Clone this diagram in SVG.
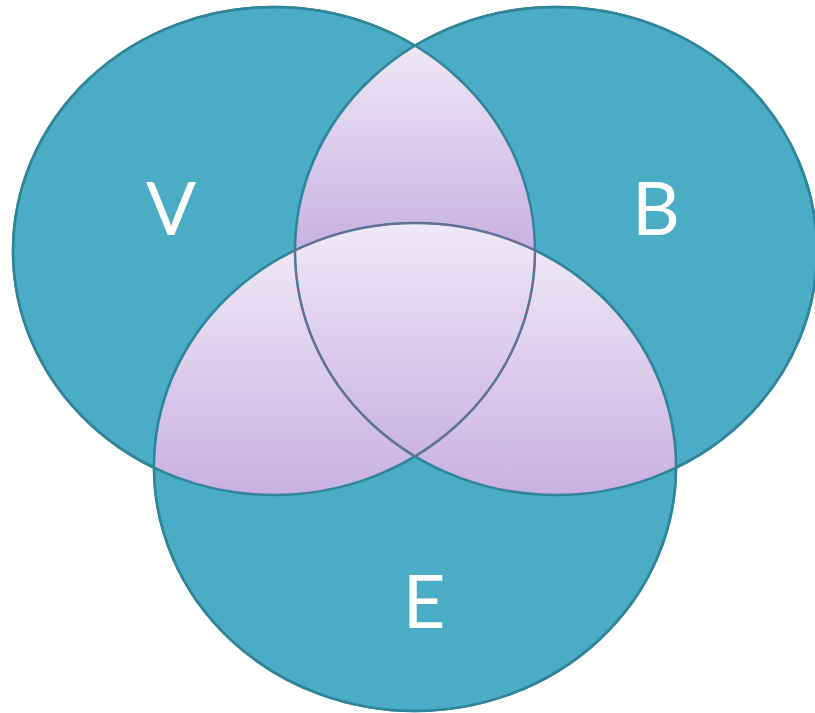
<svg xmlns="http://www.w3.org/2000/svg" width="815" height="713" viewBox="0 0 815 713">
<style>
.set{fill:#4BACC6;stroke:#31859A;stroke-width:2.5}
.edge{fill:none;stroke:#31859A;stroke-width:2.5}
.core{fill:none;stroke:#7B6794;stroke-width:1.6}
.lbl{font-family:Lato,"Open Sans",sans-serif;font-size:74px;fill:#FFFFFF;text-anchor:middle}
</style>
<defs>
<linearGradient id="pg" x1="0" y1="0" x2="0" y2="1">
<stop offset="0" stop-color="#EEE7F7"/>
<stop offset="1" stop-color="#C8B1E1"/>
</linearGradient>
<linearGradient id="pgc" x1="0" y1="0" x2="0" y2="1">
<stop offset="0" stop-color="#EFE9F8"/>
<stop offset="1" stop-color="#C9B4E2"/>
</linearGradient>
</defs>
<g id="node-V"><ellipse class="set" cx="274" cy="251" rx="261" ry="244"/></g>
<g id="node-B"><ellipse class="set" cx="556" cy="251" rx="261" ry="244"/></g>
<g id="node-E"><ellipse class="set" cx="415" cy="467" rx="261" ry="244"/></g>
<g id="overlaps">
<path id="VB" fill="url(#pg)" d="M415,45.66 A261,244 0 0,1 535,250.32 A261,244 0 0,0 295,250.32 A261,244 0 0,1 415,45.66 Z"/>
<path id="VE" fill="url(#pg)" d="M154,467.68 A261,244 0 0,1 295,250.32 A261,244 0 0,0 415,456.33 A261,244 0 0,1 154,467.68 Z"/>
<path id="BE" fill="url(#pg)" d="M676,467.68 A261,244 0 0,0 535,250.32 A261,244 0 0,1 415,456.33 A261,244 0 0,0 676,467.68 Z"/>
<path id="VBE" fill="url(#pgc)" d="M295,250.32 A261,244 0 0,1 535,250.32 A261,244 0 0,1 415,456.33 A261,244 0 0,1 295,250.32 Z"/>
</g>
<g id="outlines">
<ellipse class="edge" cx="274" cy="251" rx="261" ry="244"/>
<ellipse class="edge" cx="556" cy="251" rx="261" ry="244"/>
<ellipse class="edge" cx="415" cy="467" rx="261" ry="244"/>
<path class="core" d="M295,250.32 A261,244 0 0,1 535,250.32 A261,244 0 0,1 415,456.33 A261,244 0 0,1 295,250.32 Z"/>
</g>
<g id="labels">
<text class="lbl" x="171" y="235">V</text>
<text class="lbl" x="656" y="235">B</text>
<text class="lbl" x="424" y="628">E</text>
</g>
</svg>
